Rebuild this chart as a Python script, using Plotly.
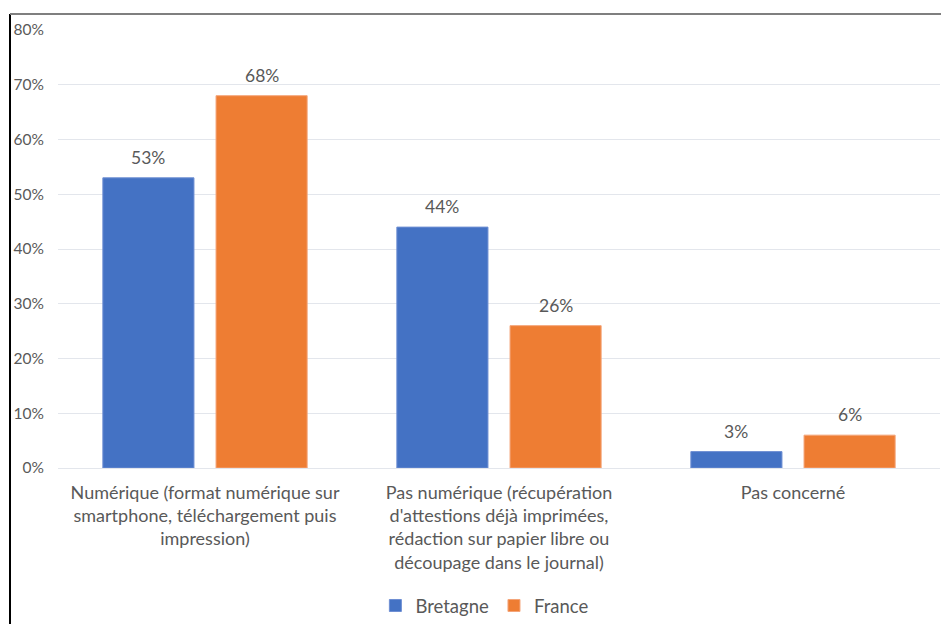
import plotly.graph_objects as go

categories = [
    "Numérique (format numérique sur<br>smartphone, téléchargement puis<br>impression)",
    "Pas numérique (récupération<br>d'attestions déjà imprimées,<br>rédaction sur papier libre ou<br>découpage dans le journal)",
    "Pas concerné",
]
bretagne = [0.53, 0.44, 0.03]
france = [0.68, 0.26, 0.06]
series_names = ["Bretagne", "France"]
tick_vals = [0, 0.1, 0.2, 0.3, 0.4, 0.5, 0.6, 0.7, 0.8]
tick_text = ["0%", "10%", "20%", "30%", "40%", "50%", "60%", "70%", "80%"]

FONT = "Lato, 'Open Sans', sans-serif"
TXT = "#595959"
BARGAP = 0.23

fig = go.Figure()
fig.add_trace(go.Bar(
    name=series_names[0], x=categories, y=bretagne,
    marker=dict(color="#4472C4", line=dict(color="#6F8FD3", width=1)),
))
fig.add_trace(go.Bar(
    name=series_names[1], x=categories, y=france,
    marker=dict(color="#EE7D33", line=dict(color="#F4A57A", width=1)),
))

# data labels above bars
slot = (1 - BARGAP) / 2
for s_idx, vals in enumerate([bretagne, france]):
    off = (s_idx - 0.5) * slot
    for i, v in enumerate(vals):
        fig.add_annotation(
            x=i + off, y=v, xref="x", yref="y",
            text=f"{round(v*100)}%", showarrow=False,
            yanchor="bottom", yshift=8,
            font=dict(family=FONT, size=17.5, color=TXT),
        )

# outer frame (left and top lines)
fig.add_shape(type="line", xref="paper", yref="paper",
              x0=(10 - 58) / 882, x1=(10 - 58) / 882, y0=1.0365, y1=-0.4,
              line=dict(color="#000000", width=2))
fig.add_shape(type="line", xref="paper", yref="paper",
              x0=(10 - 58) / 882, x1=1.01, y0=1.0365, y1=1.0365,
              line=dict(color="#7F7F7F", width=2))

fig.update_layout(
    width=941, height=624,
    margin=dict(l=58, r=1, t=30, b=156, autoexpand=False),
    paper_bgcolor="white", plot_bgcolor="white",
    barmode="group", bargap=BARGAP, bargroupgap=0.195,
    font=dict(family=FONT, color=TXT),
    legend=dict(orientation="h", x=0.484, xanchor="center", y=-0.315, yanchor="middle",
                font=dict(family=FONT, size=18.5, color=TXT), itemwidth=30,
                traceorder="normal"),
    showlegend=True,
)
fig.update_yaxes(range=[0, 0.8], tickvals=tick_vals, ticktext=tick_text,
                 showgrid=True, gridcolor="#E3E6EC", gridwidth=1, zeroline=False,
                 showline=False, ticks="", ticklabelstandoff=13, automargin=False,
                 tickfont=dict(family=FONT, size=15.5, color=TXT))
fig.update_xaxes(showline=True, linecolor="#E3E6EC", linewidth=1, ticks="",
                 ticklabelstandoff=8, automargin=False,
                 tickfont=dict(family=FONT, size=18, color=TXT))

fig.write_html("out.html", config={"displayModeBar": False},
               post_script="document.body.style.margin='0';")
